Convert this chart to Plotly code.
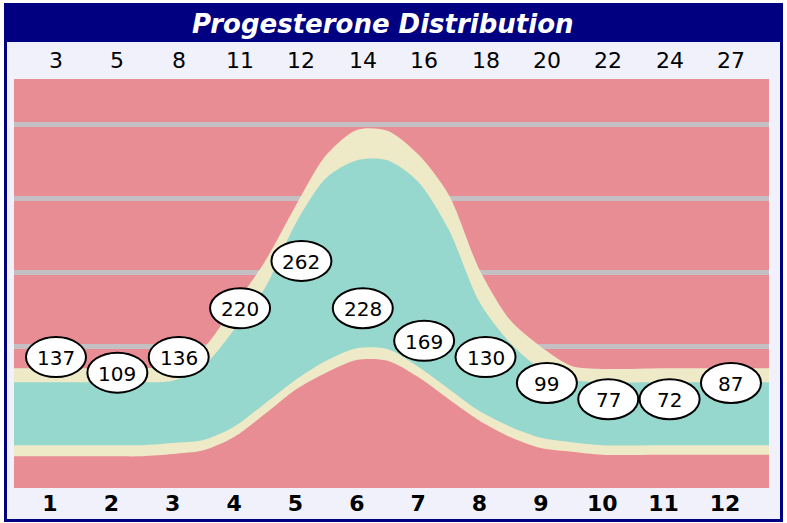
import plotly.graph_objects as go

# ---- data ----
categories = [1, 2, 3, 4, 5, 6, 7, 8, 9, 10, 11, 12]
cycle_days = ["3", "5", "8", "11", "12", "14", "16", "18", "20", "22", "24", "27"]
progesterone = [137, 109, 136, 220, 262, 228, 169, 130, 99, 77, 72, 87]
label_y = [185, 164, 185, 251, 315, 251, 207, 185, 150, 128, 128, 150]

band_x = [-0.5, 1, 2, 2.5, 3, 3.5, 4, 4.5, 5, 5.5, 6, 6.5, 7, 7.5, 8, 8.5, 9, 9.5, 10, 11, 12, 13.5]
outer_top = [170, 170, 170, 170, 173, 197, 254, 314, 389, 458, 492, 491, 459, 404, 303, 235, 199, 173, 169, 170, 170, 170]
inner_top = [151, 151, 151, 151, 153, 173, 222, 278, 365, 427, 451, 451, 422, 357, 259, 204, 169, 154, 151, 151, 151, 151]
inner_bottom = [66, 66, 66, 66, 69, 73, 91, 122, 154, 180, 197, 196, 172, 142, 112, 91, 76, 70, 66, 66, 66, 66]
outer_bottom = [51, 51, 51, 51, 54, 59, 77, 108, 141, 164, 181, 180, 158, 128, 99, 77, 62, 57, 53, 53, 53, 53]
grid_vals = [200, 300, 400, 500]

# ---- style ----
W, H = 787, 523
PL, PR, PT, PB = 14, 769, 79, 488
PINK = "#E98D95"
TEAL = "#97D8CE"
CREAM = "#EEE9C6"
GRID = "#C4BFC3"
LAV = "#F1F1FB"
NAVY = "#000080"
FONT = "DejaVu Sans"


def px_x(p):
    return (p - PL) / (PR - PL)


def px_y(p):
    return (PB - p) / (PB - PT)


fig = go.Figure()
line_style = dict(width=0, shape="spline", smoothing=0.8)
for lower, upper, color in ((outer_bottom, outer_top, CREAM),
                            (inner_bottom, inner_top, TEAL)):
    fig.add_trace(go.Scatter(x=band_x, y=lower, mode="lines", line=line_style,
                             hoverinfo="skip", showlegend=False))
    fig.add_trace(go.Scatter(x=band_x, y=upper, mode="lines", line=line_style,
                             fill="tonexty", fillcolor=color,
                             hoverinfo="skip", showlegend=False))

shapes = []


def rect(x0, y0, x1, y1, color):
    shapes.append(dict(type="rect", xref="paper", yref="paper",
                       x0=px_x(x0), x1=px_x(x1), y0=px_y(y1), y1=px_y(y0),
                       fillcolor=color, line=dict(width=0), layer="below"))


rect(0, 0, W, 3, "white")
rect(0, 0, 4, H, "white")
rect(783, 0, W, H, "white")
rect(0, 522, W, H, "white")
rect(4, 3, 783, 42, NAVY)
rect(4, 3, 7, 522, NAVY)
rect(780, 3, 783, 522, NAVY)
rect(4, 519, 783, 522, NAVY)

annotations = []
for c, v, ly, d in zip(categories, progesterone, label_y, cycle_days):
    shapes.append(dict(type="circle", xref="x", yref="y",
                       xsizemode="pixel", ysizemode="pixel",
                       xanchor=c, yanchor=ly, x0=-24, x1=36, y0=-20, y1=20,
                       fillcolor="white", line=dict(color="black", width=2),
                       layer="above"))
    annotations.append(dict(x=c, y=ly, xref="x", yref="y", text=str(v),
                            showarrow=False, xshift=6, yshift=-1,
                            font=dict(family=FONT, size=20, color="black")))
    annotations.append(dict(x=c, y=px_y(61), xref="x", yref="paper", text=d,
                            showarrow=False, xshift=6, yanchor="middle",
                            font=dict(family=FONT, size=22, color="black")))

annotations.append(dict(x=px_x(383), y=px_y(24), xref="paper", yref="paper",
                        text="<b><i>Progesterone Distribution</i></b>",
                        showarrow=False, yanchor="middle",
                        font=dict(family=FONT, size=26, color="white")))

fig.update_layout(
    width=W, height=H,
    margin=dict(l=PL, r=W - PR, t=PT, b=H - PB, pad=0),
    paper_bgcolor=LAV, plot_bgcolor=PINK,
    shapes=shapes, annotations=annotations,
    showlegend=False,
    xaxis=dict(range=[1 + (PL - 50) / 61.36, 1 + (PR - 50) / 61.36],
               tickvals=categories,
               ticktext=[f"<b>{c}</b>" for c in categories],
               tickfont=dict(family=FONT, size=22, color="black"),
               showgrid=False, zeroline=False, showline=False, ticks="",
               automargin=False, fixedrange=True),
    yaxis=dict(range=[(494 - PB) / 0.74, (494 - PT) / 0.74],
               tickvals=grid_vals, showticklabels=False,
               showgrid=True, gridcolor=GRID, gridwidth=5,
               zeroline=False, showline=False, ticks="",
               automargin=False, fixedrange=True),
)

fig.write_html("out.html", config={"displayModeBar": False},
               post_script="document.body.style.margin='0';document.body.style.overflow='hidden';")
